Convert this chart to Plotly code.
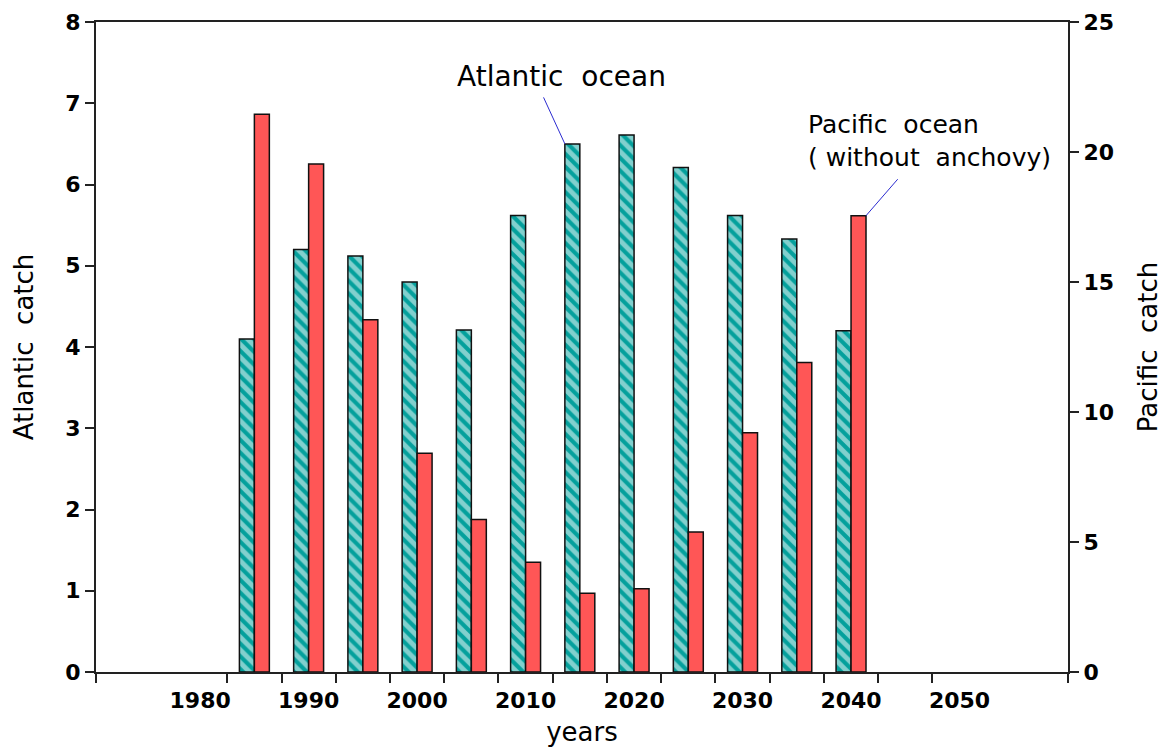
import plotly.graph_objects as go

# ---- data ----
years = [1985, 1990, 1995, 2000, 2005, 2010, 2015, 2020, 2025, 2030, 2035, 2040]
atlantic = [4.1, 5.2, 5.12, 4.8, 4.21, 5.62, 6.5, 6.61, 6.21, 5.62, 5.33, 4.2]
pacific = [21.45, 19.54, 13.55, 8.41, 5.87, 4.22, 3.03, 3.2, 5.38, 9.2, 11.9, 17.55]
label_years = [1980, 1990, 2000, 2010, 2020, 2030, 2040, 2050]
label_text = [str(y) for y in label_years]
boundary_ticks = [1982.5 + 5 * i for i in range(14)]

X_RANGE = [1970.4, 2060]
BAR_W = 1.38
TEAL = "#04A09C"
RED = "#FF5656"
FONT = "DejaVu Sans"

fig = go.Figure()
fig.add_trace(go.Bar(
    x=years, y=atlantic, name="Atlantic ocean",
    width=BAR_W, offset=-BAR_W,
    marker=dict(color=TEAL,
                pattern=dict(shape="\\", fgcolor="white",
                             size=9, solidity=0.55, fillmode="overlay"),
                line=dict(color="#111", width=1.5)),
    yaxis="y",
))
fig.add_trace(go.Bar(
    x=years, y=pacific, name="Pacific ocean",
    width=BAR_W, offset=0,
    marker=dict(color=RED, line=dict(color="#111", width=1.5)),
    yaxis="y2",
))

axis_line = dict(showline=True, linecolor="#222", linewidth=2,
                 showgrid=False, zeroline=False, automargin=False)
tickfont = dict(size=22, family=FONT, weight="bold")

# the page body adds an 8px offset, so the figure is 8px smaller and margins compensate
fig.update_layout(
    width=1162, height=743,
    margin=dict(l=88, r=102, t=14, b=79),
    plot_bgcolor="white", paper_bgcolor="white",
    barmode="overlay", showlegend=False,
    font=dict(family=FONT, color="black", size=24),
    xaxis=dict(range=X_RANGE, tickmode="array", tickvals=label_years,
               ticktext=label_text, ticks="", mirror=True,
               tickfont=tickfont, ticklabelstandoff=8,
               minor=dict(tickmode="array", tickvals=boundary_ticks + X_RANGE,
                          ticks="outside", ticklen=9, tickwidth=2,
                          tickcolor="#222", showgrid=False),
               title=dict(text="years", font=dict(size=26, family=FONT), standoff=10),
               **axis_line),
    yaxis=dict(range=[0, 8], dtick=1, ticks="outside", ticklen=9, tickwidth=2,
               tickcolor="#222", tickfont=tickfont,
               title=dict(text="Atlantic  catch", font=dict(size=26, family=FONT), standoff=24),
               **axis_line),
    yaxis2=dict(range=[0, 25], dtick=5, overlaying="y", side="right",
                ticks="outside", ticklen=9, tickwidth=2, tickcolor="#222",
                tickfont=tickfont,
                title=dict(text="Pacific  catch", font=dict(size=26, family=FONT), standoff=26),
                **axis_line),
)

# annotations: leader lines (arrow-only) and texts
fig.add_annotation(x=years[6] - BAR_W, y=atlantic[6], xref="x", yref="y",
                   text="", showarrow=True, arrowhead=0, arrowwidth=1,
                   arrowcolor="#2B2BD0", ax=-22, ay=-48, standoff=0)
fig.add_annotation(x=years[11] + BAR_W, y=pacific[11], xref="x", yref="y2",
                   text="", showarrow=True, arrowhead=0, arrowwidth=1,
                   arrowcolor="#2B2BD0", ax=33, ay=-38, standoff=0)
fig.add_annotation(x=0.4794, y=0.9154, xref="paper", yref="paper",
                   text="Atlantic  ocean", showarrow=False,
                   xanchor="center", yanchor="middle",
                   font=dict(size=28, family=FONT))
fig.add_annotation(x=0.7305, y=0.8175, xref="paper", yref="paper",
                   text="Pacific  ocean<br>( without  anchovy)", showarrow=False,
                   xanchor="left", yanchor="middle", align="left",
                   font=dict(size=25, family=FONT))

fig.write_html("out.html")
